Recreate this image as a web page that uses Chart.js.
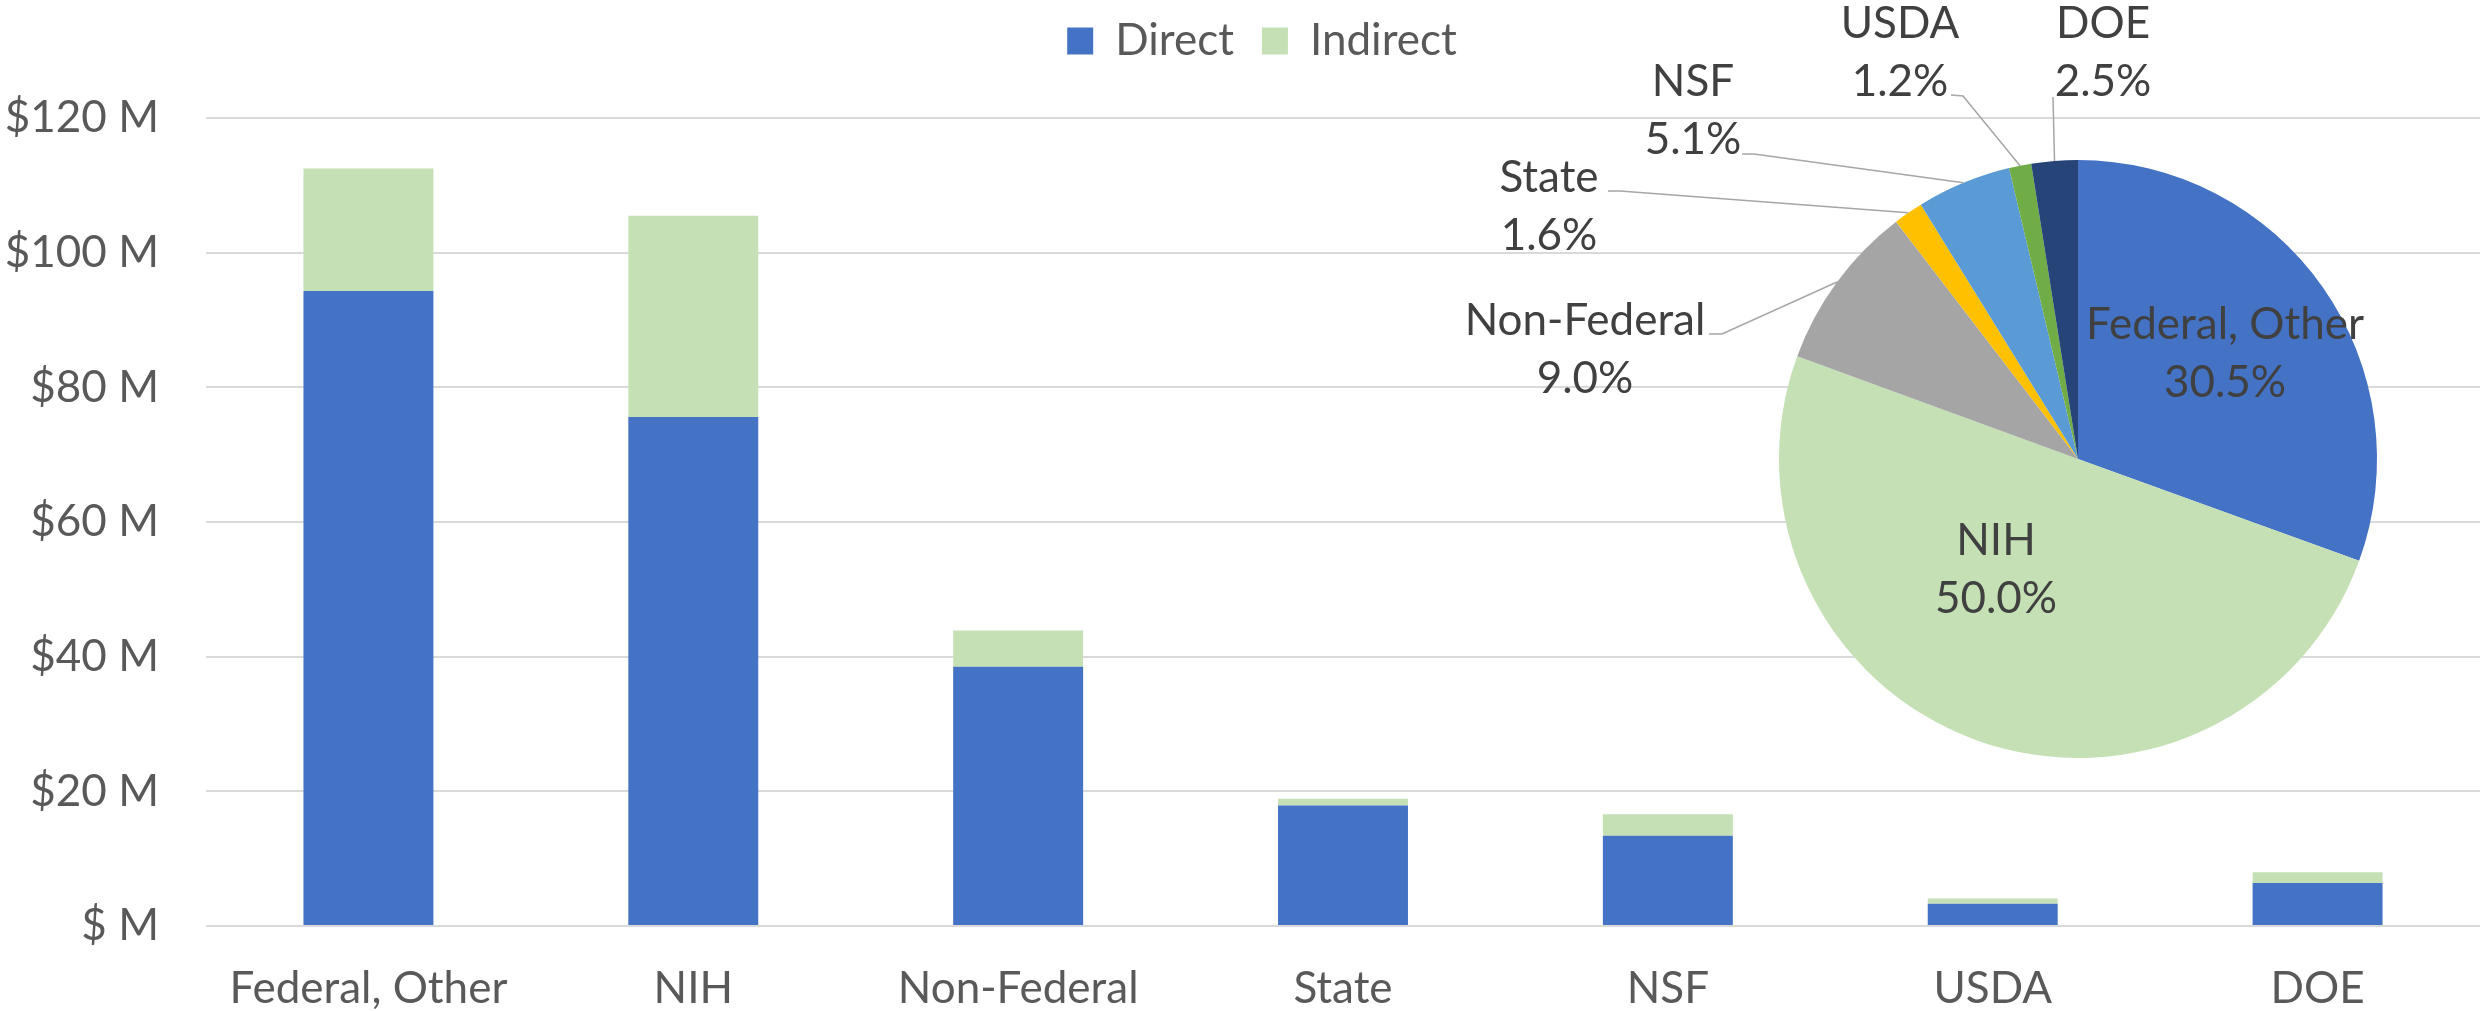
<!DOCTYPE html>
<html><head><meta charset="utf-8">
<script src="https://cdn.jsdelivr.net/npm/chart.js@4.4.1/dist/chart.umd.min.js"></script>
<style>
html,body{margin:0;padding:0;background:#fff;}
#wrap{position:relative;width:2484px;height:1011px;overflow:hidden;}
#wrap canvas{position:absolute;left:0;top:0;}
</style></head><body>
<div id="wrap"><canvas id="bar" width="2484" height="1011"></canvas><canvas id="pie" width="2484" height="1011"></canvas></div>
<script>
// ---- data ----
const categories = ['Federal, Other', 'NIH', 'Non-Federal', 'State', 'NSF', 'USDA', 'DOE'];
const directValues = [94.3, 75.6, 38.5, 17.9, 13.4, 3.3, 6.4];
const indirectValues = [18.2, 29.9, 5.4, 1.0, 3.2, 0.8, 1.6];
const yTickLabels = ['$ M', '$20 M', '$40 M', '$60 M', '$80 M', '$100 M', '$120 M'];
const pieLabels = ['Federal, Other', 'NIH', 'Non-Federal', 'State', 'NSF', 'USDA', 'DOE'];
const pieShares = [30.5, 50.0, 9.0, 1.6, 5.1, 1.2, 2.5];

// ---- style ----
const FONT = 'Lato, "Open Sans", sans-serif';
const FS = 44;
const AXIS_COLOR = '#595959';
const LABEL_COLOR = '#404040';
const pieColors = ['#4472C4', '#C5E0B4', '#A5A5A5', '#FFC000', '#5B9BD5', '#70AD47', '#264478'];

const legendGap = {
  id: 'legendGap',
  beforeInit(chart) {
    const fit = chart.legend.fit;
    chart.legend.fit = function () { fit.call(this); this.height += 45; };
  },
  afterLayout(chart) {
    chart.legend.left += 22;
    chart.legend.right += 22;
  }
};

new Chart(document.getElementById('bar'), {
  type: 'bar',
  data: {
    labels: categories,
    datasets: [
      { label: 'Direct', data: directValues, backgroundColor: '#4472C4' },
      { label: 'Indirect', data: indirectValues, backgroundColor: '#C5E0B4' }
    ]
  },
  options: {
    responsive: false,
    animation: false,
    events: [],
    layout: { padding: { top: -9, left: 0, right: 4, bottom: 0 } },
    datasets: { bar: { categoryPercentage: 1, barPercentage: 0.4 } },
    scales: {
      x: {
        stacked: true,
        grid: { display: false, drawTicks: false },
        border: { display: false },
        ticks: { font: { family: FONT, size: FS }, color: AXIS_COLOR, padding: 36, maxRotation: 0, autoSkip: false },
        afterFit(s) { s.height = 85; }
      },
      y: {
        stacked: true,
        min: 0, max: 120,
        grid: { color: '#D9D9D9', lineWidth: 2, drawTicks: false },
        border: { display: false },
        ticks: {
          stepSize: 20, padding: 47,
          font: { family: FONT, size: FS }, color: AXIS_COLOR,
          callback: (v, i) => yTickLabels[i]
        },
        afterFit(s) { s.width = 206; }
      }
    },
    plugins: {
      legend: {
        position: 'top',
        labels: { boxWidth: 26, boxHeight: 27, padding: 28, font: { family: FONT, size: FS }, color: AXIS_COLOR }
      },
      tooltip: { enabled: false }
    }
  },
  plugins: [legendGap]
});

// label placement for pie (offsets from pie centre, px)
const pieLabelLayout = [
  { dx: 147, dy: -105 },
  { dx: -82, dy: 111 },
  { dx: -493, dy: -109, lead: [[-369, -125], [-356, -125]] },
  { dx: -529, dy: -252, lead: [[-470, -268], [-458, -268]] },
  { dx: -385, dy: -348, lead: [[-336, -305], [-324, -305]] },
  { dx: -178, dy: -406, lead: [[-127, -364], [-115, -363]] },
  { dx: 25, dy: -406, lead: [[-25, -362]] }
];
const LINE_H = 58;

const pieLabelPlugin = {
  id: 'pieLabels',
  afterDatasetsDraw(chart) {
    const ctx = chart.ctx;
    const meta = chart.getDatasetMeta(0);
    ctx.save();
    meta.data.forEach((arc, i) => {
      const L = pieLabelLayout[i];
      const cx = arc.x, cy = arc.y;
      if (L.lead) {
        const a = (arc.startAngle + arc.endAngle) / 2;
        const ex = cx + arc.outerRadius * Math.cos(a), ey = cy + arc.outerRadius * Math.sin(a);
        ctx.beginPath();
        ctx.strokeStyle = '#A6A6A6';
        ctx.lineWidth = 1.5;
        ctx.moveTo(cx + L.lead[0][0], cy + L.lead[0][1]);
        for (let k = 1; k < L.lead.length; k++) ctx.lineTo(cx + L.lead[k][0], cy + L.lead[k][1]);
        ctx.lineTo(ex, ey);
        ctx.stroke();
      }
      ctx.fillStyle = LABEL_COLOR;
      ctx.font = FS + 'px ' + FONT;
      ctx.textAlign = 'center';
      ctx.textBaseline = 'middle';
      ctx.fillText(chart.data.labels[i], cx + L.dx, cy + L.dy - LINE_H / 2);
      ctx.fillText(chart.data.datasets[0].data[i].toFixed(1) + '%', cx + L.dx, cy + L.dy + LINE_H / 2);
    });
    ctx.restore();
  }
};

new Chart(document.getElementById('pie'), {
  type: 'pie',
  data: {
    labels: pieLabels,
    datasets: [{ data: pieShares, backgroundColor: pieColors, borderWidth: 0, hoverBorderWidth: 0, hoverOffset: 0 }]
  },
  options: {
    responsive: false,
    animation: false,
    events: [],
    layout: { padding: { left: 1779, right: 107, top: 160, bottom: 253 } },
    plugins: { legend: { display: false }, tooltip: { enabled: false } }
  },
  plugins: [pieLabelPlugin]
});
</script>
</body></html>
